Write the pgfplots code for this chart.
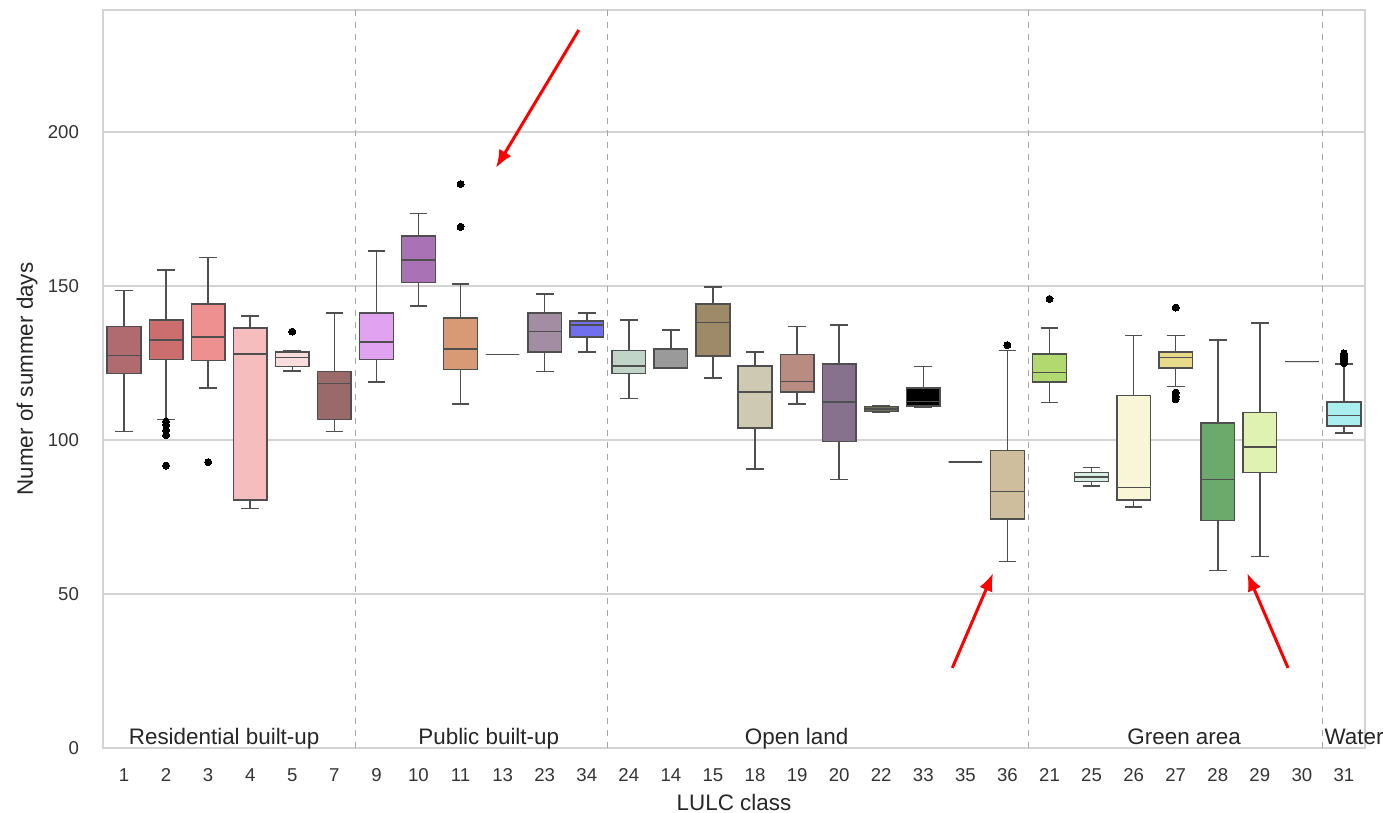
\documentclass[border=0pt]{standalone}
\usepackage{pgfplots}
\pgfplotsset{compat=1.18}
\usepgfplotslibrary{statistics}
\usetikzlibrary{arrows.meta}
\usepackage{fontspec}
\setmainfont{Liberation Sans}
\definecolor{edgec}{HTML}{4F4F4F}
\definecolor{gridc}{HTML}{D3D3D3}
\definecolor{c1}{HTML}{B06B70}
\definecolor{c2}{HTML}{CC6E6E}
\definecolor{c3}{HTML}{EE9090}
\definecolor{c4}{HTML}{F5BDBD}
\definecolor{c5}{HTML}{FADCDC}
\definecolor{c7}{HTML}{9A6A6A}
\definecolor{c9}{HTML}{E2A2F2}
\definecolor{c10}{HTML}{A872B5}
\definecolor{c11}{HTML}{D89A74}
\definecolor{c13}{HTML}{888888}
\definecolor{c23}{HTML}{A28DA2}
\definecolor{c34}{HTML}{7070EE}
\definecolor{c24}{HTML}{C0D4C8}
\definecolor{c14}{HTML}{9A9A9A}
\definecolor{c15}{HTML}{9E8A68}
\definecolor{c18}{HTML}{CDC9B2}
\definecolor{c19}{HTML}{B88C80}
\definecolor{c20}{HTML}{87728E}
\definecolor{c22}{HTML}{6E6E58}
\definecolor{c33}{HTML}{000000}
\definecolor{c35}{HTML}{444444}
\definecolor{c36}{HTML}{CFBE9E}
\definecolor{c21}{HTML}{B2D870}
\definecolor{c25}{HTML}{D8F0E4}
\definecolor{c26}{HTML}{F8F6D6}
\definecolor{c27}{HTML}{E8DC8C}
\definecolor{c28}{HTML}{6BAA6B}
\definecolor{c29}{HTML}{E0F2B2}
\definecolor{c30}{HTML}{444444}
\definecolor{c31}{HTML}{AAEEF0}
\pgfplotsset{
  lulcbox/.style={fill=#1, draw=edgec, line width=0.75pt,
    mark=*, mark size=1.75pt, mark options={fill=black, draw=black, line width=0pt}},
}
\begin{document}
\begin{tikzpicture}
\begin{axis}[
  scale only axis, width=631pt, height=369pt,
  xmin=-0.5, xmax=29.5, ymin=0, ymax=239.6,
  clip=false,
  axis line style={gridc, line width=0.8pt},
  ymajorgrids, grid style={gridc, line width=0.7pt},
  major tick length=0pt,
  xtick={0,...,29},
  xticklabels={1,2,3,4,5,7,9,10,11,13,23,34,24,14,15,18,19,20,22,33,35,36,21,25,26,27,28,29,30,31},
  ytick={0,50,100,150,200},
  tick label style={font=\fontsize{9.3}{11}\selectfont, text=black!80},
  /pgf/number format/assume math mode=true,
  xticklabel style={anchor=center, yshift=-13.5pt},
  yticklabel style={anchor=east, xshift=-8.5pt},
  xlabel={LULC class}, ylabel={Numer of summer days},
  label style={font=\fontsize{11.2}{13}\selectfont, text=black!85},
  xlabel style={at={(axis description cs:0.5,0)}, anchor=center, yshift=-27pt},
  ylabel style={at={(axis description cs:0,0.5)}, anchor=center, yshift=38pt},
  boxplot/draw direction=y,
  boxplot/box extend=0.8,
  boxplot/whisker extend=0.42,
]
\coordinate (bl) at (rel axis cs:0,0);
\coordinate (tr) at (rel axis cs:1,1);
% separators
\draw[dashed, black!35, line width=0.5pt] (axis cs:5.5,0) -- (axis cs:5.5,239.6);
\draw[dashed, black!35, line width=0.5pt] (axis cs:11.5,0) -- (axis cs:11.5,239.6);
\draw[dashed, black!35, line width=0.5pt] (axis cs:21.5,0) -- (axis cs:21.5,239.6);
\draw[dashed, black!35, line width=0.5pt] (axis cs:28.5,0) -- (axis cs:28.5,239.6);
% Residential built-up
\addplot[lulcbox=c1, boxplot prepared={draw position=0, lower whisker=102.8, lower quartile=121.6, median=127.4, upper quartile=136.8, upper whisker=148.5}] coordinates {};
\addplot[lulcbox=c2, boxplot prepared={draw position=1, lower whisker=106.7, lower quartile=126.2, median=132.5, upper quartile=139.0, upper whisker=155.2}] coordinates {(1,106.0)(1,104.9)(1,103.2)(1,101.6)(1,91.7)};
\addplot[lulcbox=c3, boxplot prepared={draw position=2, lower whisker=116.9, lower quartile=125.8, median=133.5, upper quartile=144.2, upper whisker=159.2}] coordinates {(2,92.8)};
\addplot[lulcbox=c4, boxplot prepared={draw position=3, lower whisker=77.8, lower quartile=80.5, median=127.9, upper quartile=136.3, upper whisker=140.2}] coordinates {};
\addplot[lulcbox=c5, boxplot prepared={draw position=4, lower whisker=122.4, lower quartile=123.9, median=126.8, upper quartile=128.5, upper whisker=129.1}] coordinates {(4,135.2)};
\addplot[lulcbox=c7, boxplot prepared={draw position=5, lower whisker=102.8, lower quartile=106.7, median=118.4, upper quartile=122.3, upper whisker=141.3}] coordinates {};
% Public built-up
\addplot[lulcbox=c9, boxplot prepared={draw position=6, lower whisker=118.9, lower quartile=126.2, median=131.8, upper quartile=141.3, upper whisker=161.3}] coordinates {};
\addplot[lulcbox=c10, boxplot prepared={draw position=7, lower whisker=143.5, lower quartile=151.2, median=158.5, upper quartile=166.3, upper whisker=173.5}] coordinates {};
\addplot[lulcbox=c11, boxplot prepared={draw position=8, lower whisker=111.7, lower quartile=122.9, median=129.5, upper quartile=139.6, upper whisker=150.7}] coordinates {(8,183.1)(8,169.2)};
\addplot[lulcbox=c13, boxplot prepared={draw position=9, lower whisker=127.8, lower quartile=127.8, median=127.8, upper quartile=127.8, upper whisker=127.8}] coordinates {};
\addplot[lulcbox=c23, boxplot prepared={draw position=10, lower whisker=122.3, lower quartile=128.5, median=135.2, upper quartile=141.3, upper whisker=147.4}] coordinates {};
\addplot[lulcbox=c34, boxplot prepared={draw position=11, lower whisker=128.5, lower quartile=133.4, median=137.3, upper quartile=138.6, upper whisker=141.2}] coordinates {};
% Open land
\addplot[lulcbox=c24, boxplot prepared={draw position=12, lower whisker=113.4, lower quartile=121.6, median=124.0, upper quartile=129.1, upper whisker=139.0}] coordinates {};
\addplot[lulcbox=c14, boxplot prepared={draw position=13, lower whisker=123.4, lower quartile=123.4, median=123.5, upper quartile=129.5, upper whisker=135.7}] coordinates {};
\addplot[lulcbox=c15, boxplot prepared={draw position=14, lower whisker=120.1, lower quartile=127.3, median=138.1, upper quartile=144.2, upper whisker=149.6}] coordinates {};
\addplot[lulcbox=c18, boxplot prepared={draw position=15, lower whisker=90.5, lower quartile=103.9, median=115.6, upper quartile=124.0, upper whisker=128.5}] coordinates {};
\addplot[lulcbox=c19, boxplot prepared={draw position=16, lower whisker=111.7, lower quartile=115.5, median=119.0, upper quartile=127.8, upper whisker=136.8}] coordinates {};
\addplot[lulcbox=c20, boxplot prepared={draw position=17, lower whisker=87.2, lower quartile=99.5, median=112.3, upper quartile=124.7, upper whisker=137.3}] coordinates {};
\addplot[lulcbox=c22, boxplot prepared={draw position=18, lower whisker=109.1, lower quartile=109.3, median=110.1, upper quartile=110.8, upper whisker=111.2}] coordinates {};
\addplot[lulcbox=c33, boxplot prepared={draw position=19, lower whisker=110.6, lower quartile=111.0, median=112.5, upper quartile=116.8, upper whisker=123.9}] coordinates {};
\addplot[lulcbox=c35, boxplot prepared={draw position=20, lower whisker=92.8, lower quartile=92.8, median=92.8, upper quartile=92.8, upper whisker=92.8}] coordinates {};
\addplot[lulcbox=c36, boxplot prepared={draw position=21, lower whisker=60.5, lower quartile=74.4, median=83.3, upper quartile=96.6, upper whisker=129.1}] coordinates {(21,130.8)};
% Green area
\addplot[lulcbox=c21, boxplot prepared={draw position=22, lower whisker=112.2, lower quartile=118.9, median=121.9, upper quartile=127.9, upper whisker=136.3}] coordinates {(22,145.8)};
\addplot[lulcbox=c25, boxplot prepared={draw position=23, lower whisker=85.0, lower quartile=86.6, median=88.0, upper quartile=89.5, upper whisker=91.1}] coordinates {};
\addplot[lulcbox=c26, boxplot prepared={draw position=24, lower whisker=78.2, lower quartile=80.5, median=84.5, upper quartile=114.5, upper whisker=134.0}] coordinates {};
\addplot[lulcbox=c27, boxplot prepared={draw position=25, lower whisker=117.3, lower quartile=123.4, median=126.8, upper quartile=128.6, upper whisker=134.0}] coordinates {(25,143.0)(25,115.4)(25,114.1)(25,113.2)};
\addplot[lulcbox=c28, boxplot prepared={draw position=26, lower whisker=57.7, lower quartile=73.9, median=87.2, upper quartile=105.5, upper whisker=132.4}] coordinates {};
\addplot[lulcbox=c29, boxplot prepared={draw position=27, lower whisker=62.1, lower quartile=89.4, median=97.8, upper quartile=109.0, upper whisker=137.9}] coordinates {};
\addplot[lulcbox=c30, boxplot prepared={draw position=28, lower whisker=125.4, lower quartile=125.4, median=125.4, upper quartile=125.4, upper whisker=125.4}] coordinates {};
% Water
\addplot[lulcbox=c31, boxplot prepared={draw position=29, lower whisker=102.2, lower quartile=104.5, median=107.9, upper quartile=112.3, upper whisker=124.7}] coordinates {(29,124.9)(29,125.6)(29,126.3)(29,127.0)(29,127.6)(29,128.1)};
% group labels
\begin{scope}[every node/.style={font=\fontsize{11.2}{13}\selectfont, text=black!85, anchor=base}]
\node at (axis cs:2.38,0) [yshift=1.5pt] {Residential built-up};
\node at (axis cs:8.67,0) [yshift=1.5pt] {Public built-up};
\node at (axis cs:15.99,0) [yshift=1.5pt] {Open land};
\node at (axis cs:25.2,0) [yshift=1.5pt] {Green area};
\node at (axis cs:29.24,0) [yshift=1.5pt] {Water};
\end{scope}
% red arrows
\draw[red, line width=1.5pt, -{Latex[length=9pt,width=7pt]}] (axis cs:10.81,233.1) -- (axis cs:8.84,188.3);
\draw[red, line width=1.5pt, -{Latex[length=9pt,width=7pt]}] (axis cs:19.69,26.0) -- (axis cs:20.66,56.8);
\draw[red, line width=1.5pt, -{Latex[length=9pt,width=7pt]}] (axis cs:27.67,26.0) -- (axis cs:26.70,56.8);
\end{axis}
\pgfresetboundingbox
\path ([xshift=-51.5pt,yshift=-32.5pt]bl) rectangle ([xshift=9pt,yshift=5pt]tr);
\end{tikzpicture}
\end{document}
